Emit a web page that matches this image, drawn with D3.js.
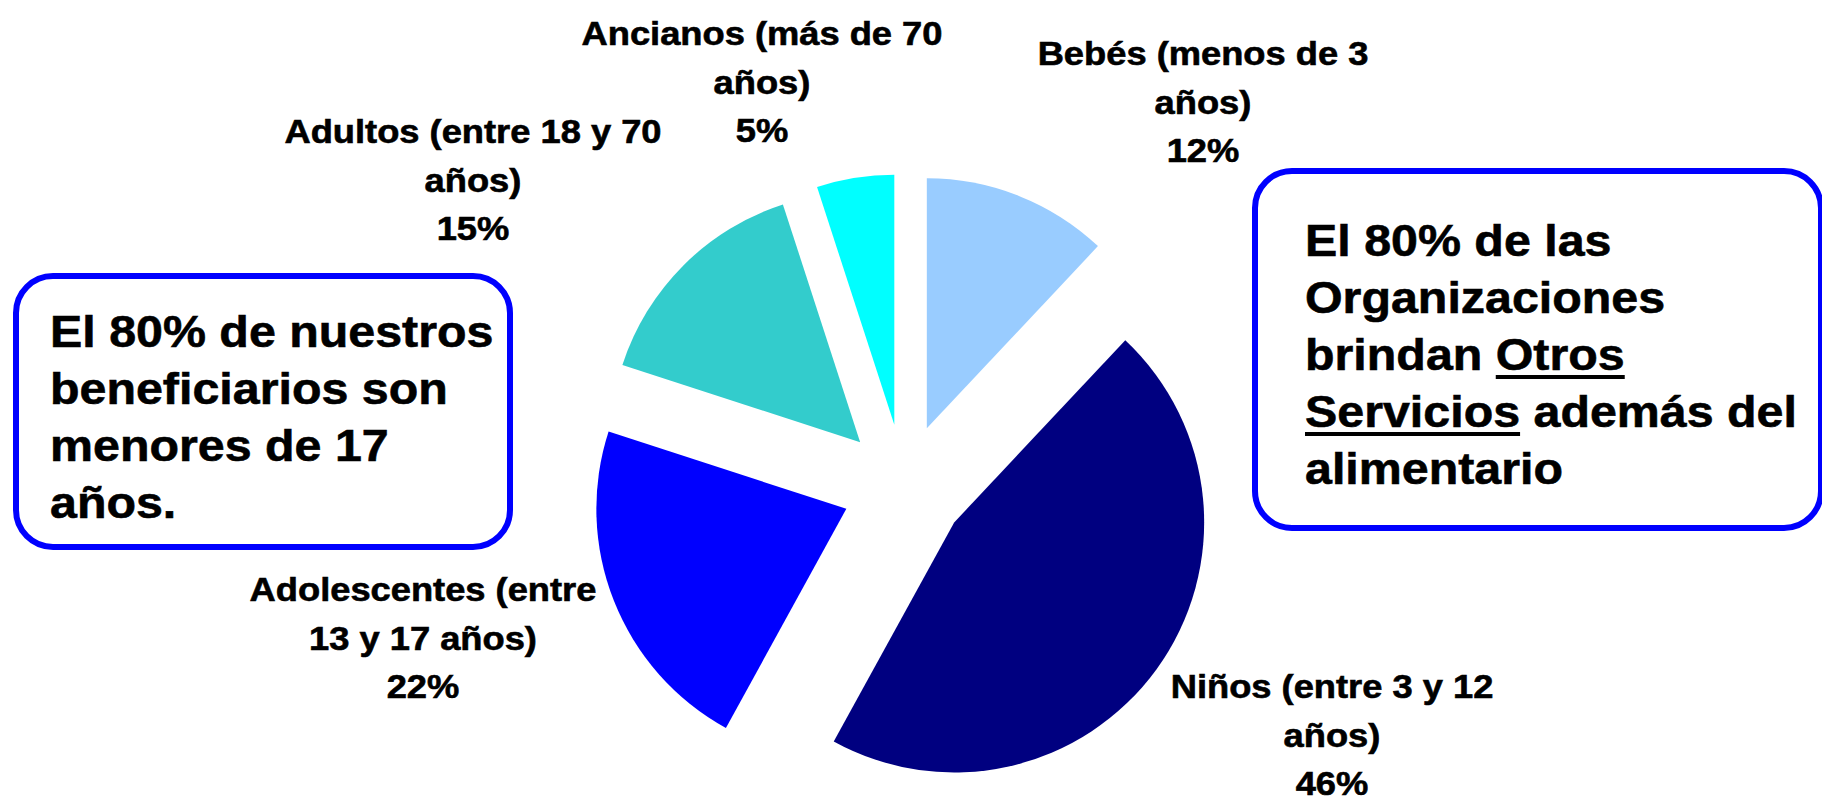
<!DOCTYPE html>
<html>
<head>
<meta charset="utf-8">
<script src="https://cdn.jsdelivr.net/npm/d3@7"></script>
<style>
  html, body { margin: 0; padding: 0; background: #fff; }
  svg text { font-family: "Liberation Sans", Arial, sans-serif; font-weight: bold; fill: #000; stroke: #000; stroke-width: 0.6px; }
</style>
</head>
<body>
<div id="chart"></div>
<script>
'use strict';

// data
const categories = ['Bebés (menos de 3 años)', 'Niños (entre 3 y 12 años)', 'Adolescentes (entre 13 y 17 años)', 'Adultos (entre 18 y 70 años)', 'Ancianos (más de 70 años)'];
const labelLines = [
  ['Bebés (menos de 3', 'años)'],
  ['Niños (entre 3 y 12', 'años)'],
  ['Adolescentes (entre', '13 y 17 años)'],
  ['Adultos (entre 18 y 70', 'años)'],
  ['Ancianos (más de 70', 'años)']
];
const values = [12, 46, 22, 15, 5];
const colors = ['#99CCFF', '#000080', '#0000FF', '#33CCCC', '#00FFFF'];

// [text, underlined]
const leftNote = [
  [['El 80% de nuestros', false]],
  [['beneficiarios son', false]],
  [['menores de 17', false]],
  [['años.', false]]
];
const rightNote = [
  [['El 80% de las', false]],
  [['Organizaciones', false]],
  [['brindan ', false], ['Otros', true]],
  [['Servicios', true], [' además del', false]],
  [['alimentario', false]]
];

// layout
const width = 1822, height = 801;
const cx = 904, cy = 486, radius = 250, explode = 62;
const labelPos = [[1203, 65], [1332, 698], [423, 601], [473, 143], [762, 45]];
const lineH = 48.5;

const svg = d3.select('#chart').append('svg')
  .attr('width', width)
  .attr('height', height);

const pie = d3.pie().sort(null).value(d => d);
const arc = d3.arc().innerRadius(0).outerRadius(radius);
const arcs = pie(values);

svg.append('g')
  .selectAll('path')
  .data(arcs)
  .enter()
  .append('path')
  .attr('d', arc)
  .attr('fill', (d, i) => colors[i])
  .attr('transform', d => {
    const a = (d.startAngle + d.endAngle) / 2;
    return 'translate(' + (cx + explode * Math.sin(a)) + ',' + (cy - explode * Math.cos(a)) + ')';
  });

// slice labels
arcs.forEach(function(d, i) {
  const lines = labelLines[i].concat([values[i] + '%']);
  const g = svg.append('g');
  lines.forEach(function(t, j) {
    g.append('text')
      .attr('transform', 'translate(' + labelPos[i][0] + ',' + (labelPos[i][1] + j * lineH) + ') scale(1.1,1)')
      .attr('text-anchor', 'middle')
      .style('font-size', '33px')
      .text(t);
  });
});

// note boxes
function drawBox(x0, y0, x1, y1) {
  svg.append('rect')
    .attr('x', x0).attr('y', y0)
    .attr('width', x1 - x0).attr('height', y1 - y0)
    .attr('rx', 37).attr('ry', 37)
    .attr('fill', '#fff')
    .attr('stroke', '#0000FF')
    .attr('stroke-width', 6);
}

function drawNote(lines, x, y0, step) {
  lines.forEach(function(parts, j) {
    const g = svg.append('g')
      .attr('transform', 'translate(' + x + ',' + (y0 + j * step) + ') scale(1.075,1)');
    const t = g.append('text').style('font-size', '45px');
    const spans = parts.map(function(p) {
      return t.append('tspan')
        .style('white-space', 'pre')
        .text(p[0]);
    });
    parts.forEach(function(p, k) {
      if (!p[1]) return;
      const node = spans[k].node();
      const x0 = node.getStartPositionOfChar(0).x;
      const w = node.getComputedTextLength();
      g.append('rect')
        .attr('x', x0)
        .attr('y', 5)
        .attr('width', w)
        .attr('height', 4)
        .attr('fill', '#000');
    });
  });
}

drawBox(16, 276, 510, 547);
drawNote(leftNote, 50, 347, 57);

drawBox(1255, 171, 1821, 528);
drawNote(rightNote, 1305, 256, 57);
</script>
</body>
</html>
